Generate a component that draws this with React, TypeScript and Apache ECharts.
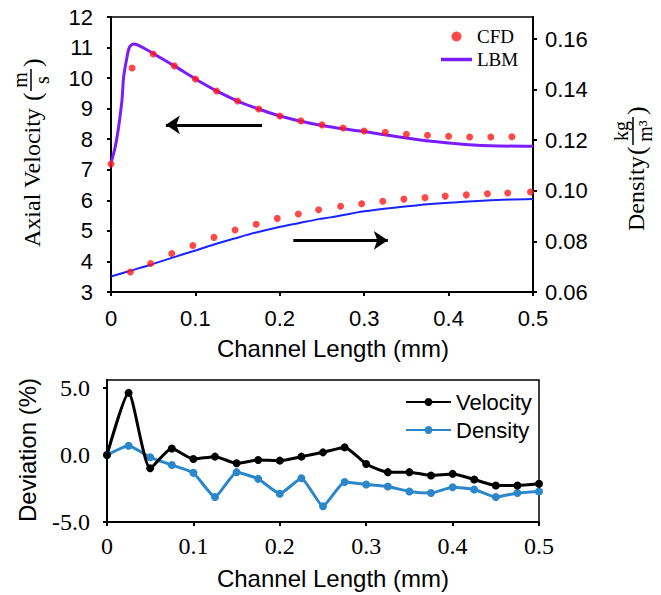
import React, { useEffect, useRef } from 'react';
import * as echarts from 'echarts';

const SANS = "'Liberation Sans', Arial, sans-serif";
const SERIF = "'Liberation Serif', 'Times New Roman', serif";

// ---- Top chart: CFD points ----
const cfdVelX = [0, 0.025, 0.05, 0.075, 0.1, 0.125, 0.15, 0.175, 0.2, 0.225, 0.25, 0.275, 0.3, 0.325, 0.35, 0.375, 0.4, 0.425, 0.45, 0.475];
const cfdVel = [7.19, 10.33, 10.79, 10.4, 9.97, 9.58, 9.25, 8.99, 8.76, 8.6, 8.47, 8.37, 8.27, 8.23, 8.16, 8.13, 8.1, 8.07, 8.07, 8.08];
const cfdDenX = [0.023, 0.047, 0.072, 0.097, 0.122, 0.147, 0.172, 0.197, 0.222, 0.246, 0.272, 0.297, 0.322, 0.347, 0.372, 0.396, 0.421, 0.446, 0.47, 0.497];
const cfdDen = [0.0679, 0.0713, 0.0752, 0.0784, 0.0816, 0.0845, 0.0868, 0.0891, 0.0908, 0.0925, 0.0939, 0.0949, 0.0959, 0.0967, 0.0973, 0.0979, 0.0984, 0.0988, 0.0991, 0.0995];

// ---- Top chart: LBM curves ----
const lbmVelX = [0, 0.005, 0.009, 0.013, 0.015, 0.019, 0.022, 0.027, 0.032, 0.043, 0.051, 0.075, 0.1, 0.125, 0.15, 0.175, 0.2, 0.225, 0.25, 0.275, 0.3, 0.34, 0.38, 0.42, 0.46, 0.5];
const lbmVel = [7.22, 7.75, 8.4, 9.28, 10.04, 10.69, 11.02, 11.12, 11.08, 10.92, 10.79, 10.4, 9.97, 9.58, 9.25, 8.99, 8.76, 8.59, 8.45, 8.34, 8.25, 8.08, 7.93, 7.83, 7.78, 7.77];
const lbmDenX = [0, 0.023, 0.047, 0.072, 0.097, 0.122, 0.147, 0.172, 0.197, 0.222, 0.246, 0.26, 0.3, 0.34, 0.379, 0.418, 0.458, 0.5];
const lbmDen = [0.0661, 0.0684, 0.0708, 0.0735, 0.0761, 0.0788, 0.0812, 0.0835, 0.0855, 0.0872, 0.0888, 0.0895, 0.0919, 0.0935, 0.0948, 0.0957, 0.0964, 0.0968];

// ---- Arrow annotations (data coords, velocity axis) ----
const arrowLeft = { from: [0.179, 8.47], to: [0.065, 8.47] };
const arrowRight = { from: [0.216, 4.69], to: [0.328, 4.69] };

// ---- Bottom chart: deviation ----
const devX = [0, 0.025, 0.05, 0.075, 0.1, 0.125, 0.15, 0.175, 0.2, 0.225, 0.25, 0.275, 0.3, 0.325, 0.35, 0.375, 0.4, 0.425, 0.45, 0.475, 0.5];
const devVel = [0, 4.64, -0.99, 0.49, -0.3, -0.12, -0.62, -0.37, -0.42, -0.12, 0.2, 0.57, -0.67, -1.28, -1.28, -1.53, -1.41, -1.83, -2.27, -2.27, -2.15];
const devDen = [0, 0.69, -0.17, -0.74, -1.33, -3.14, -1.28, -1.78, -2.89, -1.73, -3.83, -2.02, -2.2, -2.35, -2.72, -2.84, -2.4, -2.57, -3.14, -2.84, -2.72];

const zip = (xs: number[], ys: number[]) => xs.map((x, i) => [x, ys[i]]);

const RED = '#ff1a1a';
const PURPLE = '#7b1cff';
const BLUE = '#1a22ff';
const DEV_BLUE = '#2b87c9';

const axisLine = { show: true, onZero: false, lineStyle: { color: '#000', width: 2 } };
const axisTick = { show: true, length: 4, lineStyle: { color: '#000', width: 2 } };

function buildOption(): any {
  return {
    animation: false,
    backgroundColor: '#fff',
    grid: [
      { left: 111, top: 17, width: 422, height: 275, show: true, borderColor: '#000', borderWidth: 1.5, backgroundColor: 'transparent' },
      { left: 107, top: 380, width: 432, height: 142, show: true, borderColor: '#000', borderWidth: 1.5, backgroundColor: 'transparent' },
    ],
    xAxis: [
      {
        gridIndex: 0, type: 'value', min: 0, max: 0.5, interval: 0.1,
        axisLine, axisTick, splitLine: { show: false },
        axisLabel: { color: '#000', fontFamily: SANS, fontSize: 22, margin: 15, formatter: (v: number) => (v === 0 ? '0' : v.toFixed(1)) },
      },
      {
        gridIndex: 1, type: 'value', min: 0, max: 0.5, interval: 0.1,
        axisLine, axisTick, splitLine: { show: false },
        axisLabel: { color: '#000', fontFamily: SERIF, fontSize: 24, margin: 12, formatter: (v: number) => (v === 0 ? '0' : v.toFixed(1)) },
      },
    ],
    yAxis: [
      {
        gridIndex: 0, type: 'value', min: 3, max: 12, interval: 1, position: 'left',
        axisLine, axisTick, splitLine: { show: false },
        axisLabel: { color: '#000', fontFamily: SANS, fontSize: 22, margin: 18 },
      },
      {
        gridIndex: 0, type: 'value', min: 0.06, max: 0.1687, interval: 0.02, position: 'right',
        axisLine, axisTick, splitLine: { show: false },
        axisLabel: { color: '#000', fontFamily: SANS, fontSize: 22, margin: 12, showMaxLabel: false, formatter: (v: number) => v.toFixed(2) },
      },
      {
        gridIndex: 1, type: 'value', min: -5, max: 5.6, interval: 5,
        axisLine, axisTick, splitLine: { show: false },
        axisLabel: { color: '#000', fontFamily: SERIF, fontSize: 24, margin: 17, showMaxLabel: false, formatter: (v: number) => v.toFixed(1) },
      },
    ],
    legend: [
      {
        data: [
          { name: 'CFD', icon: 'circle' },
          { name: 'LBM', icon: 'path://M0,0L31,0L31,3.5L0,3.5Z' },
        ],
        orient: 'vertical', left: 436, top: 22, itemWidth: 31, itemHeight: 10, itemGap: 4,
        textStyle: { fontFamily: SERIF, fontSize: 19, color: '#000' },
      },
      {
        data: ['Velocity', 'Density'], orient: 'vertical', left: 400, top: 386, itemWidth: 45, itemHeight: 10, itemGap: 6,
        textStyle: { fontFamily: SANS, fontSize: 22, color: '#000' },
      },
    ],
    series: [
      {
        name: 'CFD', type: 'scatter', xAxisIndex: 0, yAxisIndex: 0, data: zip(cfdVelX, cfdVel),
        symbol: 'circle', symbolSize: 7, itemStyle: { color: RED }, z: 4,
      },
      {
        name: 'CFD', type: 'scatter', xAxisIndex: 0, yAxisIndex: 1, data: zip(cfdDenX, cfdDen),
        symbol: 'circle', symbolSize: 7, itemStyle: { color: RED }, z: 4,
      },
      {
        name: 'LBM', type: 'line', xAxisIndex: 0, yAxisIndex: 0, data: zip(lbmVelX, lbmVel),
        symbol: 'none', smooth: 0.3, lineStyle: { color: PURPLE, width: 3 }, itemStyle: { color: PURPLE }, z: 3,
        markLine: {
          silent: true, symbol: ['none', 'arrow'], symbolSize: 14,
          lineStyle: { color: '#000', width: 3, type: 'solid' }, label: { show: false },
          data: [
            [{ coord: arrowLeft.from }, { coord: arrowLeft.to }],
            [{ coord: arrowRight.from }, { coord: arrowRight.to }],
          ],
        },
      },
      {
        name: 'LBM', type: 'line', xAxisIndex: 0, yAxisIndex: 1, data: zip(lbmDenX, lbmDen),
        symbol: 'none', smooth: 0.3, lineStyle: { color: BLUE, width: 2 }, itemStyle: { color: BLUE }, z: 3,
      },
      {
        name: 'Velocity', type: 'line', xAxisIndex: 1, yAxisIndex: 2, data: zip(devX, devVel),
        symbol: 'circle', symbolSize: 8, smooth: 0.2, lineStyle: { color: '#000', width: 3 }, itemStyle: { color: '#000' }, z: 4,
      },
      {
        name: 'Density', type: 'line', xAxisIndex: 1, yAxisIndex: 2, data: zip(devX, devDen),
        symbol: 'circle', symbolSize: 8, smooth: 0.15, lineStyle: { color: DEV_BLUE, width: 3 }, itemStyle: { color: DEV_BLUE }, z: 3,
      },
    ],
    graphic: [
      { type: 'text', x: 333, y: 348, style: { text: 'Channel Length (mm)', font: `24px ${SANS}`, fill: '#000', align: 'center', verticalAlign: 'middle' } },
      { type: 'text', x: 333, y: 578, style: { text: 'Channel Length (mm)', font: `24px ${SANS}`, fill: '#000', align: 'center', verticalAlign: 'middle' } },
      { type: 'text', x: 27, y: 450, rotation: Math.PI / 2, style: { text: 'Deviation (%)', font: `24px ${SANS}`, fill: '#000', align: 'center', verticalAlign: 'middle' } },
      {
        type: 'group', x: 32, y: 247, rotation: Math.PI / 2,
        children: [
          { type: 'text', x: 0, y: 0, style: { text: 'Axial Velocity', font: `24px ${SERIF}`, fill: '#000', align: 'left', verticalAlign: 'middle' } },
          { type: 'text', x: 146, y: 0, style: { text: '(', font: `26px ${SERIF}`, fill: '#000', align: 'left', verticalAlign: 'middle' } },
          { type: 'line', shape: { x1: 156, y1: -1, x2: 178, y2: -1 }, style: { stroke: '#000', lineWidth: 1.5 } },
          { type: 'text', x: 167, y: -12, style: { text: 'm', font: `20px ${SERIF}`, fill: '#000', align: 'center', verticalAlign: 'middle' } },
          { type: 'text', x: 167, y: 10, style: { text: 's', font: `20px ${SERIF}`, fill: '#000', align: 'center', verticalAlign: 'middle' } },
          { type: 'text', x: 180, y: 0, style: { text: ')', font: `26px ${SERIF}`, fill: '#000', align: 'left', verticalAlign: 'middle' } },
        ],
      },
      {
        type: 'group', x: 636, y: 231, rotation: Math.PI / 2,
        children: [
          { type: 'text', x: 0, y: 0, style: { text: 'Density', font: `24px ${SERIF}`, fill: '#000', align: 'left', verticalAlign: 'middle' } },
          { type: 'text', x: 76, y: 0, style: { text: '(', font: `26px ${SERIF}`, fill: '#000', align: 'left', verticalAlign: 'middle' } },
          { type: 'line', shape: { x1: 86, y1: -3, x2: 114, y2: -3 }, style: { stroke: '#000', lineWidth: 1.5 } },
          { type: 'text', x: 100, y: -15, style: { text: 'kg', font: `20px ${SERIF}`, fill: '#000', align: 'center', verticalAlign: 'middle' } },
          { type: 'text', x: 100, y: 9, style: { text: 'm³', font: `20px ${SERIF}`, fill: '#000', align: 'center', verticalAlign: 'middle' } },
          { type: 'text', x: 116, y: 0, style: { text: ')', font: `26px ${SERIF}`, fill: '#000', align: 'left', verticalAlign: 'middle' } },
        ],
      },
    ],
  };
}

export default function App() {
  const ref = useRef<HTMLDivElement>(null);
  useEffect(() => {
    if (!ref.current) return;
    const chart = echarts.init(ref.current, null, { renderer: 'svg' });
    chart.setOption(buildOption());
    return () => chart.dispose();
  }, []);
  return <div ref={ref} style={{ position: 'absolute', left: 0, top: 0, width: 661, height: 595, background: '#fff' }} />;
}
